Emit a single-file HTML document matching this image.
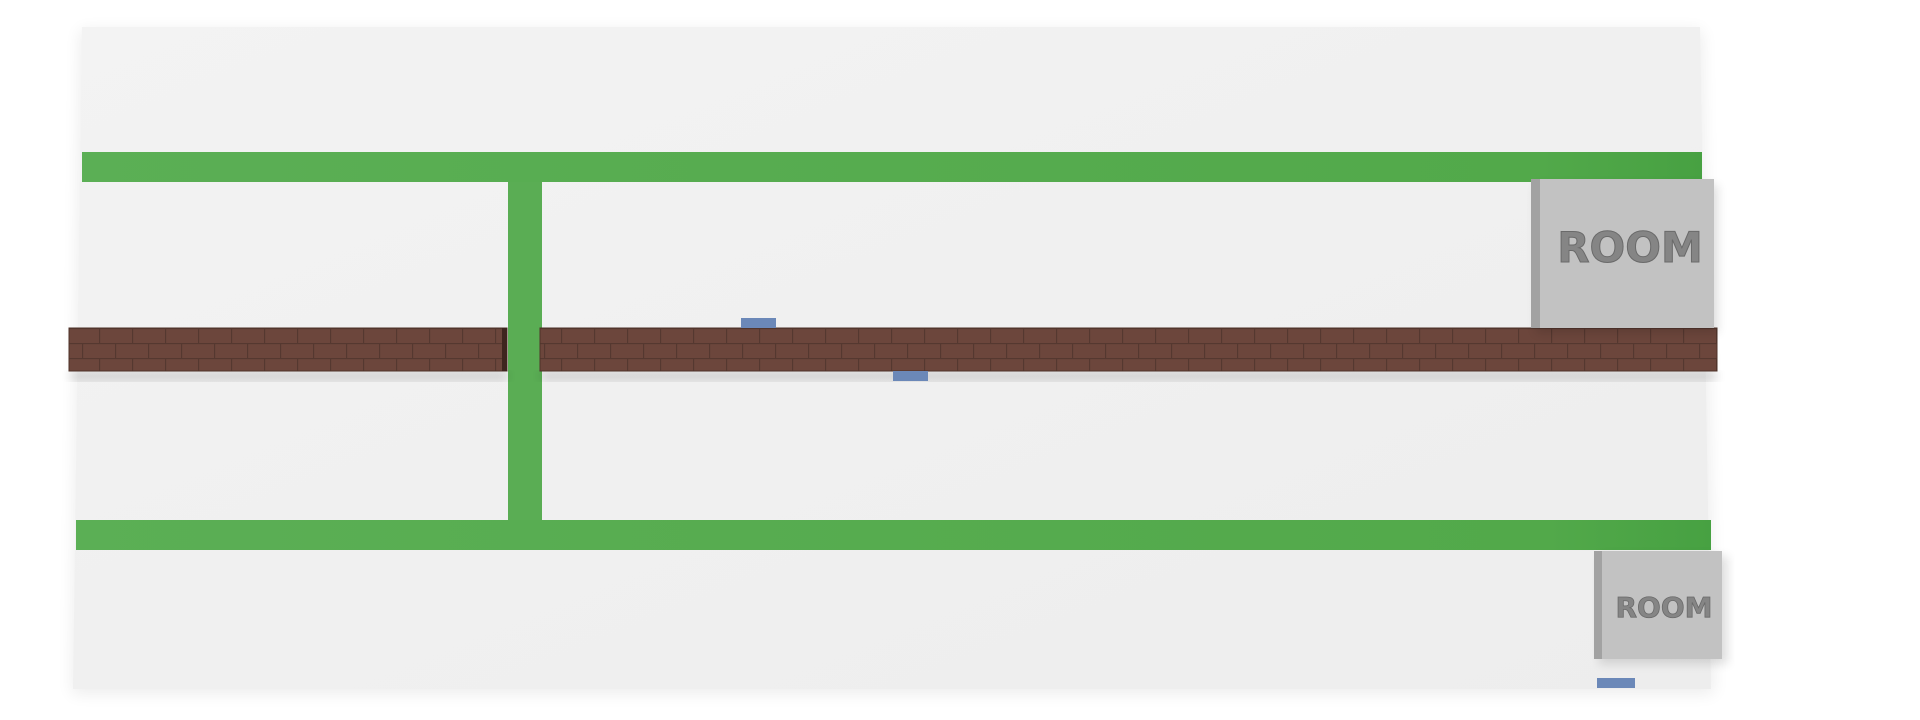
<!DOCTYPE html>
<html><head><meta charset="utf-8"><style>
html,body{margin:0;padding:0;background:#fff;width:1920px;height:720px;overflow:hidden}
svg{display:block}
</style></head><body>
<svg width="1920" height="720" viewBox="0 0 1920 720">
<defs>
<linearGradient id="board" x1="0" y1="0" x2="1" y2="1">
<stop offset="0" stop-color="#f3f3f3"/><stop offset="1" stop-color="#ededed"/></linearGradient>
<linearGradient id="green" x1="0" y1="0" x2="1" y2="0">
<stop offset="0" stop-color="#5baf55"/><stop offset="0.9" stop-color="#52a94a"/><stop offset="1" stop-color="#47a142"/></linearGradient>
<pattern id="brick" x="0" y="328" width="66" height="30" patternUnits="userSpaceOnUse">
<rect width="66" height="30" fill="#6c463c"/>
<rect x="0" y="0" width="66" height="1.2" fill="#553830"/>
<rect x="0" y="15" width="66" height="1.2" fill="#553830"/>
<rect x="0" y="0" width="1.2" height="15" fill="#553830"/>
<rect x="33" y="0" width="1.2" height="15" fill="#553830"/>
<rect x="16" y="15" width="1.2" height="15" fill="#553830"/>
<rect x="49" y="15" width="1.2" height="15" fill="#553830"/>
</pattern>
<filter id="sh" x="-5%" y="-20%" width="110%" height="140%"><feGaussianBlur stdDeviation="5"/></filter>
<filter id="sh2" x="-5%" y="-5%" width="110%" height="110%"><feGaussianBlur stdDeviation="8"/></filter>
</defs>
<polygon points="80,30 1702,30 1714,694 72,694" fill="#000" opacity="0.07" filter="url(#sh2)"/>
<polygon points="82,27 1700,27 1711,689 73,689" fill="url(#board)"/>
<rect x="82" y="152" width="1620" height="30" fill="url(#green)"/>
<rect x="508" y="182" width="34" height="338" fill="#5aad54"/>
<rect x="76" y="520" width="1635" height="30" fill="url(#green)"/>
<rect x="70" y="372" width="437" height="8" fill="#000" opacity="0.16" filter="url(#sh)"/>
<rect x="541" y="372" width="1176" height="8" fill="#000" opacity="0.16" filter="url(#sh)"/>
<rect x="69" y="328" width="438" height="43" fill="url(#brick)" stroke="#4e3229" stroke-width="1"/>
<rect x="502" y="328" width="5" height="43" fill="#3e251f"/>
<rect x="540" y="328" width="1177" height="43" fill="url(#brick)" stroke="#4e3229" stroke-width="1"/>
<rect x="741" y="318" width="35" height="10" fill="#6b88b8"/>
<rect x="893" y="371" width="35" height="10" fill="#6b88b8"/>
<rect x="1597" y="678" width="38" height="10" fill="#6b88b8"/>
<g>
<rect x="1536" y="185" width="182" height="148" fill="#000" opacity="0.12" filter="url(#sh)"/>
<rect x="1531" y="179" width="183" height="149" fill="#c2c2c2"/>
<rect x="1531" y="179" width="9" height="149" fill="#a2a2a2"/>
<text x="1630" y="262" text-anchor="middle" font-family="DejaVu Sans, sans-serif" font-weight="bold" font-size="42" fill="#858585" stroke="#6a6a6a" stroke-width="1">ROOM</text>
</g>
<g>
<rect x="1599" y="556" width="129" height="108" fill="#000" opacity="0.12" filter="url(#sh)"/>
<rect x="1594" y="551" width="128" height="108" fill="#c2c2c2"/>
<rect x="1594" y="551" width="8" height="108" fill="#a2a2a2"/>
<text x="1664" y="617" text-anchor="middle" font-family="DejaVu Sans, sans-serif" font-weight="bold" font-size="28" fill="#858585" stroke="#6a6a6a" stroke-width="0.8">ROOM</text>
</g>
</svg>
</body></html>
